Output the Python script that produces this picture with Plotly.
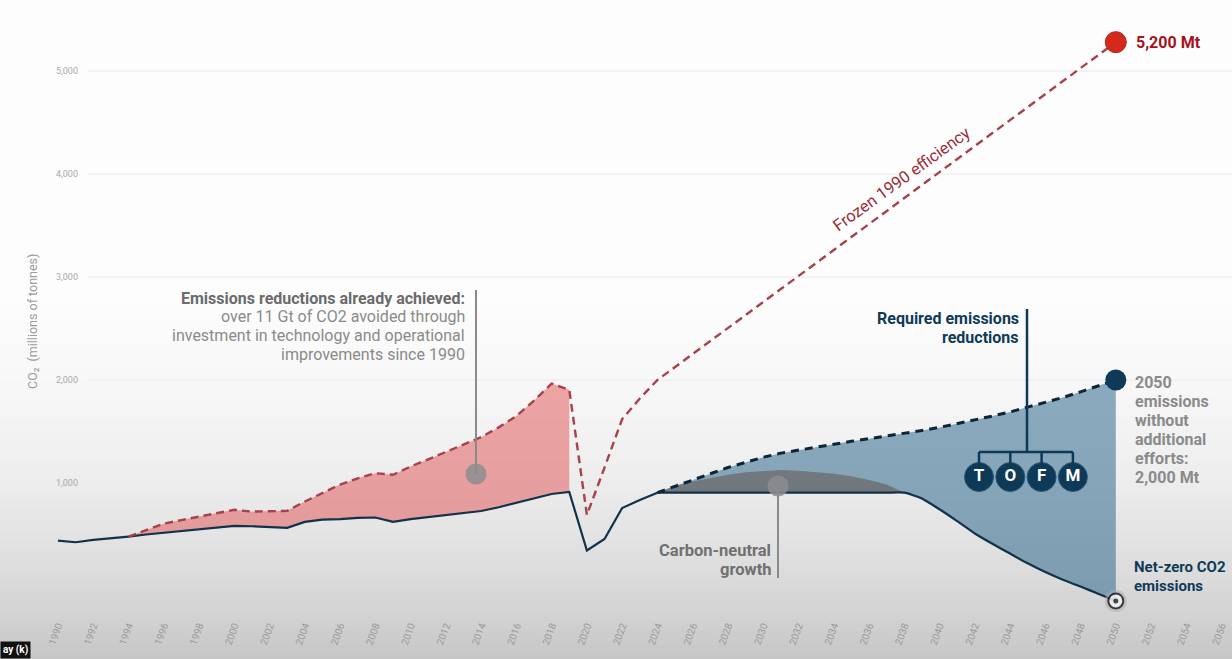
import plotly.graph_objects as go

# ==========================
# DATA
# ==========================
hist_years = list(range(1990, 2025))
actual_hist = [440, 425, 447, 462, 480, 500, 518, 535, 553, 568,
               583, 580, 576, 565, 622, 645, 650, 662, 665, 622,
               650, 670, 690, 708, 728, 765, 806, 850, 893, 913,
               345, 456, 757, 835, 906]

frozen_years = list(range(1994, 2025)) + [2050]
frozen_1990 = [480, 545, 605, 640, 672, 705, 740, 722, 725, 730,
               820, 905, 985, 1045, 1095, 1080, 1160, 1230, 1300, 1370,
               1445, 1540, 1650, 1800, 1965, 1905, 690, 1150, 1620, 1820,
               2000, 5280]

future_years = list(range(2024, 2051))
bau_2050 = [906, 965, 1025, 1090, 1150, 1200, 1250, 1290, 1320, 1350,
            1380, 1405, 1430, 1455, 1480, 1510, 1540, 1575, 1610, 1650,
            1690, 1735, 1780, 1830, 1885, 1940, 2000]
netzero_path = [906, 906, 906, 906, 906, 906, 906, 906, 906, 906,
                906, 906, 906, 906, 906, 850, 745, 630, 510, 410,
                315, 220, 135, 60, -5, -75, -145]

neutral_years = list(range(2024, 2039))
neutral_growth = [906, 975, 1015, 1050, 1080, 1105, 1118, 1126, 1120, 1108,
                  1090, 1065, 1030, 985, 906]

achieved_years = list(range(1994, 2020))
tofm_labels = ["T", "O", "F", "M"]
y_ticks = [1000, 2000, 3000, 4000, 5000]
x_ticks = list(range(1990, 2057, 2))

# ==========================
# ESCALA (pixel -> dados)
# ==========================
W, H = 1232, 659
PX_YR = 17.63
PX_MT = 0.103
T_M, B_M = 10, 58
plot_h = H - T_M - B_M


def xd(px):
    return 1990 + (px - 58) / PX_YR


def yd(py):
    return (586 - py) / PX_MT


def ypaper(py):
    return (H - B_M - py) / plot_h


NAVY = "#0f3a57"
RED_LINE = "#a6424a"
FONT = "Roboto"

fig = go.Figure()

# ---- fundo em gradiente
stops = [(0, 253), (300, 253), (400, 246), (480, 237), (560, 223), (620, 209), (659, 198)]


def gray_at(py):
    for (p0, g0), (p1, g1) in zip(stops[:-1], stops[1:]):
        if p0 <= py <= p1:
            return g0 + (g1 - g0) * (py - p0) / (p1 - p0)
    return stops[-1][1]


shapes = []
band = 5
for top in range(290, H, band):
    g = int(round(gray_at(top + band / 2)))
    shapes.append(dict(type="rect", xref="paper", yref="paper", layer="below",
                       x0=0, x1=1, y0=ypaper(top + band + 0.5), y1=ypaper(top),
                       fillcolor=f"rgb({g},{g},{g})", line=dict(width=0)))
for v in y_ticks:
    shapes.append(dict(type="line", xref="paper", yref="y", layer="below",
                       x0=88 / W, x1=1, y0=v, y1=v, line=dict(color="#e9e9e9", width=1)))

# ---- área vermelha (reduções já atingidas)
i0 = hist_years.index(achieved_years[0])
i1 = hist_years.index(achieved_years[-1]) + 1
fig.add_trace(go.Scatter(x=achieved_years, y=actual_hist[i0:i1], mode="lines",
                         line=dict(width=0), showlegend=False, hoverinfo="skip"))
fig.add_trace(go.Scatter(x=achieved_years, y=frozen_1990[:len(achieved_years)], mode="lines",
                         line=dict(width=0), fill="tonexty", fillcolor="rgba(225,80,80,0.5)",
                         showlegend=False, hoverinfo="skip"))

# ---- área azul (reduções necessárias)
fig.add_trace(go.Scatter(x=future_years, y=netzero_path, mode="lines",
                         line=dict(width=0, shape="spline", smoothing=0.6),
                         showlegend=False, hoverinfo="skip"))
fig.add_trace(go.Scatter(x=future_years, y=bau_2050, mode="lines",
                         line=dict(width=0), fill="tonexty", fillcolor="rgba(50,105,140,0.55)",
                         showlegend=False, hoverinfo="skip"))

# ---- crescimento neutro em carbono
fig.add_trace(go.Scatter(x=neutral_years, y=netzero_path[:len(neutral_years)], mode="lines",
                         line=dict(width=0), showlegend=False, hoverinfo="skip"))
fig.add_trace(go.Scatter(x=neutral_years, y=neutral_growth, mode="lines",
                         line=dict(width=0), fill="tonexty", fillcolor="rgba(100,94,90,0.62)",
                         showlegend=False, hoverinfo="skip"))

# ---- linhas
fig.add_trace(go.Scatter(x=hist_years, y=actual_hist, mode="lines",
                         line=dict(color="#12324a", width=2.2), showlegend=False))
fig.add_trace(go.Scatter(x=future_years, y=netzero_path, mode="lines",
                         line=dict(color="#12324a", width=2.2, shape="spline", smoothing=0.6),
                         showlegend=False))
fig.add_trace(go.Scatter(x=frozen_years, y=frozen_1990, mode="lines",
                         line=dict(color=RED_LINE, width=2.4, dash="8px,5px"), showlegend=False))
fig.add_trace(go.Scatter(x=future_years, y=bau_2050, mode="lines",
                         line=dict(color="#0d2538", width=3, dash="8px,6px"), showlegend=False))

# ---- callouts cinza
callouts = [(xd(476), yd(474), yd(290)), (xd(778), yd(486), yd(578))]
for cx, cy, cend in callouts:
    shapes.append(dict(type="line", xref="x", yref="y", x0=cx, x1=cx, y0=cy, y1=cend,
                       line=dict(color="#8a8a8a", width=2)))
fig.add_trace(go.Scatter(x=[c[0] for c in callouts], y=[c[1] for c in callouts], mode="markers",
                         marker=dict(size=21, color="rgba(140,140,145,0.85)"),
                         showlegend=False, hoverinfo="skip", cliponaxis=False))

# ---- marcadores finais
fig.add_trace(go.Scatter(x=[frozen_years[-1]], y=[frozen_1990[-1]], mode="markers",
                         marker=dict(size=21, color="#d42a1c", line=dict(color="#b01e14", width=1)),
                         showlegend=False, cliponaxis=False))
fig.add_trace(go.Scatter(x=[future_years[-1]], y=[bau_2050[-1]], mode="markers",
                         marker=dict(size=21, color=NAVY), showlegend=False, cliponaxis=False))
fig.add_trace(go.Scatter(x=[future_years[-1]] * 3, y=[netzero_path[-1]] * 3, mode="markers",
                         marker=dict(size=[22, 15, 5], color=["rgba(175,175,175,0.8)", "white", "black"],
                                     line=dict(color=["rgba(0,0,0,0)", "black", "black"], width=[0, 2, 0])),
                         showlegend=False, cliponaxis=False))

# ---- chave TOFM
stem_x = xd(1027)
bracket_y = yd(452)
circ_y = yd(477)
circ_x = [xd(979 + i * 31.3) for i in range(len(tofm_labels))]
shapes.append(dict(type="line", xref="x", yref="y", x0=stem_x, x1=stem_x, y0=yd(309), y1=bracket_y,
                   line=dict(color=NAVY, width=2.5)))
shapes.append(dict(type="line", xref="x", yref="y", x0=circ_x[0], x1=circ_x[-1], y0=bracket_y, y1=bracket_y,
                   line=dict(color=NAVY, width=2.5)))
for cx in circ_x:
    shapes.append(dict(type="line", xref="x", yref="y", x0=cx, x1=cx, y0=bracket_y, y1=yd(464),
                       line=dict(color=NAVY, width=2.5)))
fig.add_trace(go.Scatter(x=circ_x, y=[circ_y] * len(circ_x), mode="markers+text",
                         marker=dict(size=29, color=NAVY, line=dict(color="#2a5677", width=1)),
                         text=[f"<b>{t}</b>" for t in tofm_labels], textposition="middle center",
                         textfont=dict(family=FONT, size=17, color="white"),
                         showlegend=False, hoverinfo="skip", cliponaxis=False))

# ==========================
# TEXTOS
# ==========================
annotations = []


def bloco(linhas, px, py0, passo, lado, cor, tam=16, negrito=None):
    for i, t in enumerate(linhas):
        b = negrito[i] if negrito else True
        annotations.append(dict(x=xd(px), y=yd(py0 + i * passo), xanchor=lado, yanchor="middle",
                                text=f"<b>{t}</b>" if b else t,
                                font=dict(family=FONT, size=tam, color=cor[i] if isinstance(cor, list) else cor),
                                showarrow=False))


bloco(["Emissions reductions already achieved:", "over 11 Gt of CO2 avoided through",
       "investment in technology and operational", "improvements since 1990"],
      467, 298, 18.7, "right", ["#6b6b6b", "#8a8a8a", "#8a8a8a", "#8a8a8a"],
      negrito=[True, False, False, False])
bloco(["Required emissions", "reductions"], 1021, 318, 19, "right", NAVY)
bloco(["Carbon-neutral", "growth"], 773, 550, 19, "right", "#707070", tam=16.5)
bloco(["2050", "emissions", "without", "additional", "efforts:", "2,000 Mt"],
      1133, 382, 19.1, "left", "#8a8a8a")
bloco(["Net-zero CO2", "emissions"], 1132, 567, 18.5, "left", NAVY, tam=15)
bloco(["5,200 Mt"], 1134, 42, 0, "left", "#a5121e")

annotations += [
    dict(x=xd(901), y=yd(179), xanchor="center", yanchor="middle", textangle=-36,
         text="Frozen 1990 efficiency", font=dict(family=FONT, size=16.5, color="#9b2d3a")),
    dict(x=32 / W, y=ypaper(322), xref="paper", yref="paper", xanchor="center", yanchor="middle",
         textangle=-90, text="CO₂  (millions of tonnes)", font=dict(family=FONT, size=12.5, color="#9c9c9c")),
    dict(x=0, y=ypaper(659), xref="paper", yref="paper", xanchor="left", yanchor="bottom",
         text="<b>ay (k)</b>", bgcolor="#111111", borderpad=2,
         font=dict(family=FONT, size=10, color="white")),
]
for a in annotations:
    a.setdefault("showarrow", False)

fig.update_layout(
    width=W, height=H,
    margin=dict(l=0, r=0, t=T_M, b=B_M),
    paper_bgcolor="rgb(253,253,253)",
    plot_bgcolor="rgba(0,0,0,0)",
    font=dict(family=FONT),
    shapes=shapes,
    annotations=annotations,
    showlegend=False,
)

fig.update_xaxes(range=[xd(0), xd(W)], tickvals=x_ticks,
                 tickangle=-70, tickfont=dict(family=FONT, size=10, color="#9a9a9a"),
                 ticks="outside", ticklen=14, tickcolor="rgba(0,0,0,0)",
                 showgrid=False, zeroline=False, showline=False)
fig.update_yaxes(range=[yd(H - B_M), yd(T_M)], tickvals=y_ticks, tickformat=",",
                 tickfont=dict(family=FONT, size=9, color="#a8a8a8"),
                 anchor="free", position=78 / W,
                 showgrid=False, zeroline=False, showline=False)

fig.write_html("out.html", config={"displayModeBar": False},
               post_script="document.body.style.margin='0px';")
